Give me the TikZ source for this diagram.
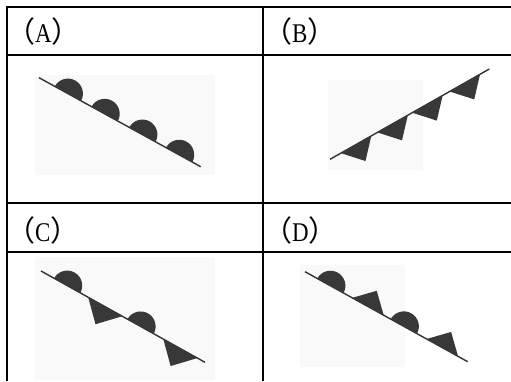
\documentclass[tikz,border=0pt]{standalone}
\usepackage{fontspec}
\setmainfont{Liberation Serif}
\newfontfamily\cjk{Noto Sans CJK SC}
\usepackage{tikz}
\usetikzlibrary{positioning}

\newcommand{\optlabel}[1]{{\cjk\fontsize{29}{29}\selectfont （}\scalebox{0.85}[1]{\fontsize{27}{27}\selectfont #1}{\cjk\fontsize{29}{29}\selectfont ）}}

\begin{document}
\begin{tikzpicture}[x=1pt, y=1pt,
  grid/.style={line width=1.8pt, black},
  cellname/.style={anchor=west, inner sep=0pt},
  scan/.style={fill=black!2.5, draw=none},
  front/.style={line width=1.4pt, black!80},
  sym/.style={fill=black!78, draw=none}]

  \useasboundingbox (0,0) rectangle (511,381);

  % Scan patches
  \fill [scan] (35,206) rectangle (215,306);
  \fill [scan] (328,211) rectangle (423,301);
  \fill [scan] (35,1) rectangle (215,124);
  \fill [scan] (300,14) rectangle (405,116);

  % Table
  \draw [grid] (7,0) -- (7,374) -- (511,374);
  \draw [grid] (263,0) -- (263,374);
  \draw [grid] (7,326) -- (511,326);
  \draw [grid] (7,178) -- (511,178);
  \draw [grid] (7,129) -- (511,129);

  % Labels
  \node [cellname] (la) at (6,349.3) {\optlabel{A}};
  \node [cellname] (lb) at (263,349.3) {\optlabel{B}};
  \node [cellname] (lc) at (6,150.2) {\optlabel{C}};
  \node [cellname] (ld) at (263,150.2) {\optlabel{D}};

  % Fronts
  \coordinate (a0) at (39,303.3);
  \coordinate (a1) at (200.7,214.3);
  \draw [front] (a0) -- (a1);
  \begin{scope}[shift={(a0)}, rotate=-28.8]
    \foreach \s in {33,75,118,160}
      \fill [sym] (\s-15,0) arc[start angle=180, end angle=0, radius=15] -- cycle;
  \end{scope}

  \coordinate (b0) at (330,221.7);
  \coordinate (b1) at (489.3,312);
  \draw [front] (b0) -- (b1);
  \begin{scope}[shift={(b0)}, rotate=29.55]
    \foreach \s in {30,72,112,155}
      \fill [sym] (\s-17.5,0) -- (\s,-19) -- (\s+17.5,0) -- cycle;
  \end{scope}

  \coordinate (c0) at (41,110);
  \coordinate (c1) at (205,18.7);
  \draw [front] (c0) -- (c1);
  \begin{scope}[shift={(c0)}, rotate=-29.1]
    \foreach \s in {30,114}
      \fill [sym] (\s-15,0) arc[start angle=180, end angle=0, radius=15] -- cycle;
    \foreach \s in {73.5,159.5}
      \fill [sym] (\s-19.5,0) -- (\s,-20) -- (\s+19.5,0) -- cycle;
  \end{scope}

  \coordinate (d0) at (305,109.3);
  \coordinate (d1) at (467.7,19.3);
  \draw [front] (d0) -- (d1);
  \begin{scope}[shift={(d0)}, rotate=-28.95]
    \foreach \s in {29,113}
      \fill [sym] (\s-15,0) arc[start angle=180, end angle=0, radius=15] -- cycle;
    \foreach \s in {72,157}
      \fill [sym] (\s-18,0) -- (\s,18) -- (\s+18,0) -- cycle;
  \end{scope}

\end{tikzpicture}
\end{document}
